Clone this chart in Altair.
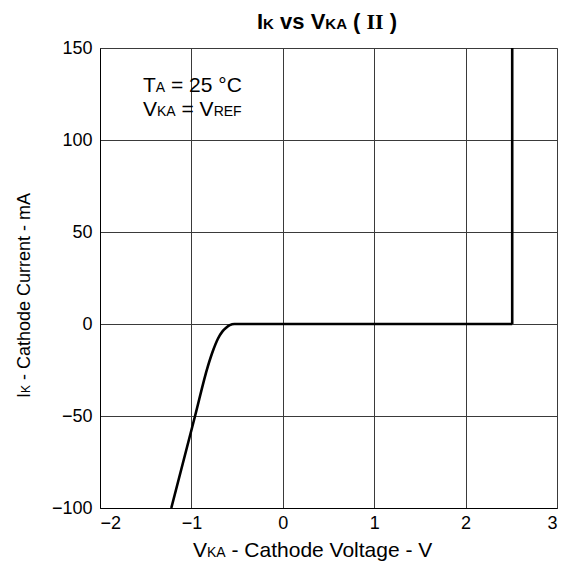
import altair as alt
import pandas as pd

# Curve data
vka = [-1.22, -0.96, -0.82, -0.76, -0.71, -0.66, -0.62, -0.58, -0.53, 2.51]
ik = [-100, -50, -23, -14, -8, -4, -2, -0.6, 0, 0]
vert_v = [2.51, 2.51]
vert_i = [0, 150]
x_ticks = [-2, -1, 0, 1, 2, 3]
y_ticks = [-100, -50, 0, 50, 100, 150]

df = pd.DataFrame({"v": vka, "i": ik})
dv = pd.DataFrame({"v": vert_v, "i": vert_i})

W, H = 457, 460
OX, OY = 100, 48  # plot origin on page

REG = {' ': 278, '-': 333, 'C': 722, 'a': 556, 't': 278, 'h': 556, 'o': 556, 'd': 556,
       'e': 556, 'V': 667, 'l': 222, 'g': 556, 'I': 278, 'u': 556, 'r': 333, 'n': 556,
       'm': 833, 'A': 667, 'K': 667, 'T': 611, '=': 584, '2': 556, '5': 556, '°': 400,
       'R': 722, 'E': 667, 'F': 611}
BOLD = {'I': 278, 'K': 722, 'v': 556, 's': 556, 'V': 667, 'A': 722, ' ': 278, '(': 333, ')': 333}
SERIFB = {'I': 389, ' ': 250}

FONT = "Liberation Sans"


def width(text, size, table):
    return sum(table.get(c, 556) for c in text) * size / 1000.0


def segments(parts, X, Y, angle=0):
    layers = []
    off = 0.0
    for text, size, weight, font, table in parts:
        lead = len(text) - len(text.lstrip(" "))
        core = text.strip(" ")
        trail = len(text) - len(text.rstrip(" "))
        off += lead * table.get(" ", 278) * size / 1000.0
        if angle == 0:
            px, py = X - OX + off, Y - OY
        else:
            px, py = X - OX, Y - OY - off
        kw = dict(align="left", baseline="alphabetic", fontSize=size, font=font,
                  fontWeight=weight, color="black")
        if angle:
            kw["angle"] = angle
        layers.append(
            alt.Chart(pd.DataFrame({"t": [core]}))
            .mark_text(**kw)
            .encode(x=alt.value(px), y=alt.value(py), text="t:N")
        )
        off += width(core, size, table) + trail * table.get(" ", 278) * size / 1000.0
    return layers


xs = alt.X("v:Q", scale=alt.Scale(domain=[-2, 3], nice=False),
           axis=alt.Axis(values=x_ticks, format="d", title=None, grid=True, ticks=False,
                         labelFontSize=18, labelFont=FONT, labelColor="black",
                         labelPadding=6, domainColor="black",
                         gridColor="#3a3a3a", gridWidth=1))
ys = alt.Y("i:Q", scale=alt.Scale(domain=[-100, 150], nice=False),
           axis=alt.Axis(values=y_ticks, format="d", title=None, grid=True, ticks=False,
                         labelFontSize=18, labelFont=FONT, labelColor="black",
                         labelPadding=8, domainColor="black",
                         gridColor="#3a3a3a", gridWidth=1))

curve = alt.Chart(df).mark_line(color="black", strokeWidth=2.6, interpolate="monotone",
                                clip=True).encode(x=xs, y=ys)
vert = alt.Chart(dv).mark_line(color="black", strokeWidth=2.6, clip=True).encode(
    x="v:Q", y="i:Q")

sb = 15
tb = 22
title_parts = [
    ("I", tb, "bold", FONT, BOLD), ("K", sb, "bold", FONT, BOLD),
    (" vs ", tb, "bold", FONT, BOLD), ("V", tb, "bold", FONT, BOLD),
    ("KA", sb, "bold", FONT, BOLD), (" ( ", tb, "bold", FONT, BOLD),
    ("II", tb, "bold", "Liberation Serif", SERIFB), (" )", tb, "bold", FONT, BOLD),
]
xt_parts = [("V", 21, "normal", FONT, REG), ("KA", 14, "normal", FONT, REG),
            (" - Cathode Voltage - V", 21, "normal", FONT, REG)]
yt_parts = [("I", 18, "normal", FONT, REG), ("K", 12, "normal", FONT, REG),
            (" - Cathode Current - mA", 18, "normal", FONT, REG)]
a1 = [("T", 21, "normal", FONT, REG), ("A", 14, "normal", FONT, REG),
      (" = 25 °C", 21, "normal", FONT, REG)]
a2 = [("V", 21, "normal", FONT, REG), ("KA", 14, "normal", FONT, REG),
      (" = V", 21, "normal", FONT, REG), ("REF", 14, "normal", FONT, REG)]

texts = (segments(title_parts, 257, 29) + segments(xt_parts, 193, 557)
         + segments(yt_parts, 30, 398, angle=270)
         + segments(a1, 143, 92) + segments(a2, 143, 116))

chart = alt.layer(curve, vert, *texts).properties(
    width=W, height=H,
    autosize=alt.AutoSizeParams(type="none"),
    padding={"left": 92, "top": 40, "right": 9, "bottom": 53},
    background="white",
).configure_view(stroke="#808080", strokeWidth=1)

chart.save("out.html", embed_options={"renderer": "svg", "actions": False})
